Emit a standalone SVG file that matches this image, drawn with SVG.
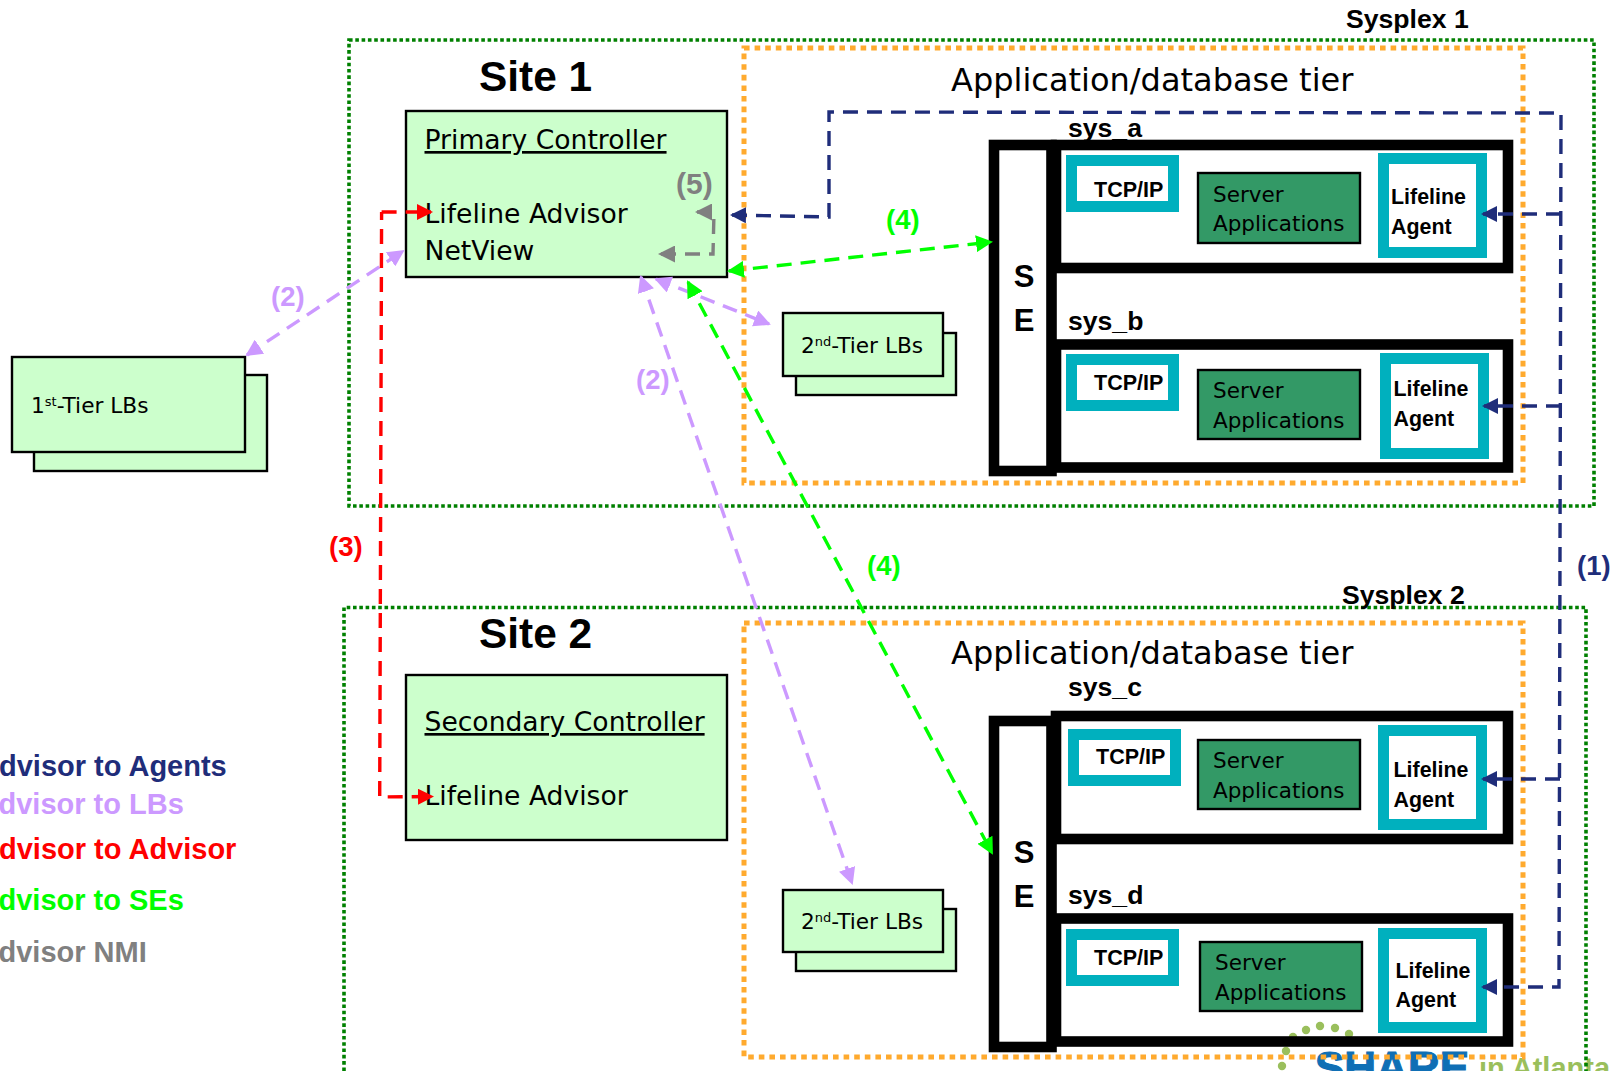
<svg xmlns="http://www.w3.org/2000/svg" width="1618" height="1071" viewBox="0 0 1618 1071">
<style>
text{font-family:"Liberation Sans",Arial,sans-serif;fill:#000}
.site{font-size:42.4px;font-weight:bold}
.tier{font-family:"DejaVu Sans",sans-serif;font-size:32px}
.ctl{font-family:"DejaVu Sans",sans-serif;font-size:26.6px}
.lb{font-family:"DejaVu Sans",sans-serif;font-size:21.7px}
.sup{font-size:13px}
.sys{font-size:26.6px;font-weight:bold}
.tcp{font-size:21.5px;font-weight:bold}
.ag{font-size:21.4px;font-weight:bold}
.sv{font-family:"DejaVu Sans",sans-serif;font-size:21.5px}
.se{font-size:31px;font-weight:bold;text-anchor:middle}
.lg{font-size:29px;font-weight:bold}
.n{font-size:27.5px;font-weight:bold}
.gd{fill:none;stroke:#008000;stroke-width:3.6;stroke-dasharray:3.6 2.7}
.od{fill:none;stroke:#FFAA2E;stroke-width:5;stroke-dasharray:5.6 5}
.g{fill:#CCFFCC;stroke:#000;stroke-width:2.4}
.bk{fill:#fff;stroke:#000;stroke-width:10.6}
.tl{fill:#fff;stroke:#00B0BE;stroke-width:11}
.sa{fill:#339966;stroke:#000;stroke-width:2.4}
.c{fill:none;stroke-width:3.4;stroke-dasharray:15 9}
.navy{stroke:#1F2D7A}.pur{stroke:#CC99FF}.red{stroke:#FF0000}.lime{stroke:#00FF00}.gray{stroke:#808080}
.dot{fill:#9ABF5C}
</style>
<defs>
<marker id="mn" markerUnits="userSpaceOnUse" markerWidth="16" markerHeight="16" refX="14" refY="8" orient="auto-start-reverse"><path d="M0 0L16 8L0 16z" fill="#1F2D7A"/></marker>
<marker id="mp" markerUnits="userSpaceOnUse" markerWidth="17" markerHeight="17" refX="15" refY="8.500" orient="auto-start-reverse"><path d="M0 0L17 8.500L0 17z" fill="#CC99FF"/></marker>
<marker id="mr" markerUnits="userSpaceOnUse" markerWidth="16" markerHeight="16" refX="14" refY="8" orient="auto-start-reverse"><path d="M0 0L16 8L0 16z" fill="#FF0000"/></marker>
<marker id="ml" markerUnits="userSpaceOnUse" markerWidth="17" markerHeight="17" refX="15" refY="8.500" orient="auto-start-reverse"><path d="M0 0L17 8.500L0 17z" fill="#00FF00"/></marker>
<marker id="mg" markerUnits="userSpaceOnUse" markerWidth="17" markerHeight="17" refX="15" refY="8.500" orient="auto-start-reverse"><path d="M0 0L17 8.500L0 17z" fill="#808080"/></marker>
</defs>
<rect width="1618" height="1071" fill="#fff"/>
<g id="logo">
<circle class="dot" cx="1306" cy="1030" r="4.200"/><circle class="dot" cx="1320" cy="1026" r="4.200"/><circle class="dot" cx="1335" cy="1028" r="4.200"/><circle class="dot" cx="1349" cy="1034" r="4.200"/><circle class="dot" cx="1293" cy="1037" r="4.200"/><circle class="dot" cx="1286" cy="1051" r="4.200"/><circle class="dot" cx="1282" cy="1066" r="4.200"/>
<text x="1315" y="1083" style="font-size:44px;font-weight:bold;fill:#0F6FB5;stroke:#0F6FB5;stroke-width:1.2">SHARE</text>
<text x="1479" y="1078" style="font-size:29px;font-weight:bold;fill:#9ABF5C">in Atlanta</text>
</g>
<g id="sysplex-1"><rect class="gd" x="349" y="40" width="1245" height="466"/><text class="sys" x="1346" y="28">Sysplex 1</text></g>
<g id="sysplex-2"><path class="gd" d="M344 1071V607.500H1586V1071"/><text class="sys" x="1342" y="604">Sysplex 2</text></g>
<g id="tier-1"><rect class="od" x="744" y="48" width="779" height="435"/><text class="tier" x="951" y="91">Application/database tier</text></g>
<g id="tier-2"><rect class="od" x="744" y="623" width="779" height="434"/><text class="tier" x="951" y="664">Application/database tier</text></g>
<g id="site-1-label"><text class="site" x="479" y="91">Site 1</text></g>
<g id="site-2-label"><text class="site" x="479" y="648">Site 2</text></g>
<g id="first-tier-lbs"><rect class="g" x="34" y="375" width="233" height="96"/><rect class="g" x="12" y="357" width="233" height="95"/><text class="lb" x="31" y="413">1<tspan class="sup" dy="-7">st</tspan><tspan dy="7">-Tier LBs</tspan></text></g>
<g id="primary-controller"><rect class="g" x="406" y="111" width="321" height="166"/><text class="ctl" x="424.500" y="149" text-decoration="underline">Primary Controller</text><text class="ctl" x="424.500" y="223">Lifeline Advisor</text><text class="ctl" x="424.500" y="260">NetView</text></g>
<g id="secondary-controller"><rect class="g" x="406" y="675" width="321" height="165"/><text class="ctl" x="424.500" y="731" text-decoration="underline">Secondary Controller</text><text class="ctl" x="424.500" y="805">Lifeline Advisor</text></g>
<g id="second-tier-lbs-1"><rect class="g" x="796" y="333" width="160" height="62"/><rect class="g" x="783" y="313" width="160" height="63"/><text class="lb" x="801" y="353">2<tspan class="sup" dy="-7">nd</tspan><tspan dy="7">-Tier LBs</tspan></text></g>
<g id="second-tier-lbs-2"><rect class="g" x="796" y="909" width="160" height="62"/><rect class="g" x="783" y="890" width="160" height="62"/><text class="lb" x="801" y="929">2<tspan class="sup" dy="-7">nd</tspan><tspan dy="7">-Tier LBs</tspan></text></g>
<g id="se-1"><rect class="bk" x="994" y="145" width="57.500" height="326"/><text class="se" x="1024" y="287">S</text><text class="se" x="1024" y="331">E</text></g>
<g id="se-2"><rect class="bk" x="994" y="721" width="57.500" height="326"/><text class="se" x="1024" y="863">S</text><text class="se" x="1024" y="907">E</text></g>
<g id="sys-a"><rect class="bk" x="1056" y="145" width="452" height="123"/><text class="sys" x="1068" y="137">sys_a</text>
<rect class="tl" x="1071.500" y="160.500" width="102" height="46"/><text class="tcp" x="1094" y="197">TCP/IP</text>
<rect class="sa" x="1198" y="173" width="162" height="70"/><text class="sv" x="1213" y="202">Server</text><text class="sv" x="1213" y="231">Applications</text>
<rect class="tl" x="1383.500" y="158.500" width="98" height="94"/><text class="ag" x="1391" y="204">Lifeline</text><text class="ag" x="1391" y="234">Agent</text></g>
<g id="sys-b"><rect class="bk" x="1056" y="344.500" width="452" height="123"/><text class="sys" x="1068" y="330">sys_b</text>
<rect class="tl" x="1071.500" y="359.500" width="102" height="46"/><text class="tcp" x="1094" y="390">TCP/IP</text>
<rect class="sa" x="1198" y="370" width="162" height="69"/><text class="sv" x="1213" y="398">Server</text><text class="sv" x="1213" y="428">Applications</text>
<rect class="tl" x="1385.500" y="358.500" width="98" height="95"/><text class="ag" x="1393.500" y="396">Lifeline</text><text class="ag" x="1393.500" y="426">Agent</text></g>
<g id="sys-c"><rect class="bk" x="1056" y="716" width="452" height="123"/><text class="sys" x="1068" y="696">sys_c</text>
<rect class="tl" x="1073.500" y="734.500" width="102" height="46"/><text class="tcp" x="1096" y="764">TCP/IP</text>
<rect class="sa" x="1198" y="740" width="162" height="69"/><text class="sv" x="1213" y="768">Server</text><text class="sv" x="1213" y="798">Applications</text>
<rect class="tl" x="1383.500" y="730.500" width="98" height="94"/><text class="ag" x="1393.500" y="777">Lifeline</text><text class="ag" x="1393.500" y="807">Agent</text></g>
<g id="sys-d"><rect class="bk" style="fill:none" x="1056" y="918.500" width="452" height="123"/><text class="sys" x="1068" y="904">sys_d</text>
<rect class="tl" x="1071.500" y="934.500" width="102" height="46"/><text class="tcp" x="1094" y="965">TCP/IP</text>
<rect class="sa" x="1200" y="942" width="162" height="69"/><text class="sv" x="1215" y="970">Server</text><text class="sv" x="1215" y="1000">Applications</text>
<rect class="tl" x="1383.500" y="933.500" width="98" height="94"/><text class="ag" x="1395.500" y="978">Lifeline</text><text class="ag" x="1395.500" y="1007">Agent</text></g>
<g id="connectors">
<path class="c navy" d="M732 215L829 217V112L1561 113L1559 987H1483" marker-start="url(#mn)" marker-end="url(#mn)"/>
<path class="c navy" d="M1561 214H1483" marker-end="url(#mn)"/>
<path class="c navy" d="M1561 406H1484" marker-end="url(#mn)"/>
<path class="c navy" d="M1560 779H1483" marker-end="url(#mn)"/>
<path class="c pur" d="M247 355L403 251" marker-start="url(#mp)" marker-end="url(#mp)"/>
<path class="c pur" d="M641 277L852 883" marker-start="url(#mp)" marker-end="url(#mp)"/>
<path class="c pur" d="M656 279L769 324" marker-start="url(#mp)" marker-end="url(#mp)"/>
<path class="c lime" d="M688 282L992 853" marker-start="url(#ml)" marker-end="url(#ml)"/>
<path class="c lime" d="M729 271L991 242" marker-start="url(#ml)" marker-end="url(#ml)"/>
<path class="c red" d="M381.600 212H431" marker-end="url(#mr)"/>
<path class="c red" style="stroke-dashoffset:7" d="M381.600 212L379.700 797L432 796.500" marker-end="url(#mr)"/>
<path class="c gray" d="M697 212H714L713 254H660" marker-start="url(#mg)" marker-end="url(#mg)"/>
</g>
<g id="labels">
<text class="n" x="1577" y="575" style="fill:#1F2D7A">(1)</text>
<text class="n" x="271" y="306" style="fill:#CC99FF">(2)</text>
<text class="n" x="636" y="389" style="fill:#CC99FF">(2)</text>
<text class="n" x="329" y="556" style="fill:#FF0000">(3)</text>
<text class="n" x="886" y="229" style="fill:#00FF00">(4)</text>
<text class="n" x="867" y="575" style="fill:#00FF00">(4)</text>
<text class="n" x="676" y="194" style="font-size:30px;fill:#808080">(5)</text>
</g>
<g id="legend">
<text class="lg" x="-1" y="776" style="fill:#1F2D7A">dvisor to Agents</text>
<text class="lg" x="-1.500" y="814" style="fill:#CC99FF">dvisor to LBs</text>
<text class="lg" x="-1" y="859" style="fill:#FF0000">dvisor to Advisor</text>
<text class="lg" x="-1.500" y="910" style="fill:#00FF00">dvisor to SEs</text>
<text class="lg" x="-1.500" y="962" style="fill:#808080">dvisor NMI</text>
</g>
</svg>
